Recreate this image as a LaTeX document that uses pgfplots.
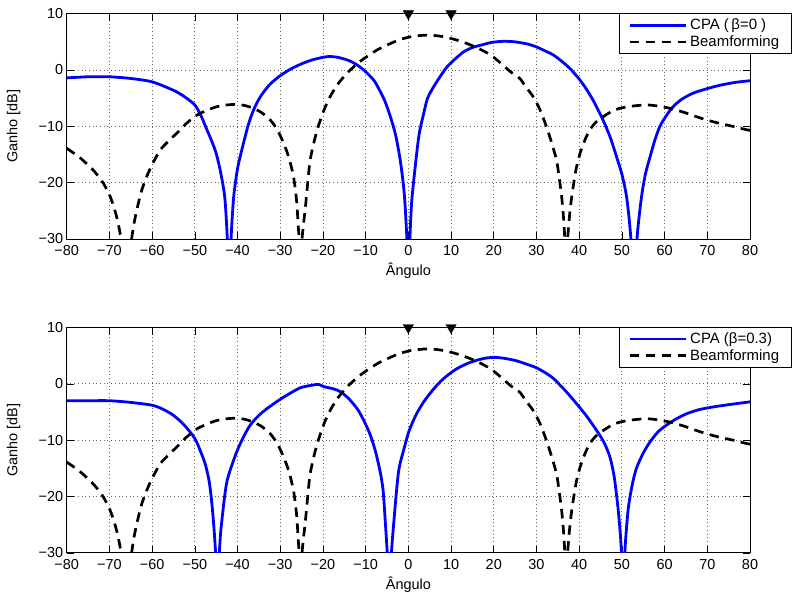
\documentclass[border=0pt]{standalone}
\usepackage{fontspec}
\setmainfont{Liberation Sans}
\usepackage{pgfplots}
\usepackage{pgfplotstable}
\pgfplotsset{compat=1.18}

\definecolor{mblue}{rgb}{0,0,1}

% Beamforming (same in both panels)
\pgfplotstableread{
x y
-80 -13.9
-77 -15.5
-73.75 -17.8
-71.5 -20
-69.8 -22.5
-68.5 -25.5
-67.5 -29
-66.8 -34
-66.2 -60
-65.6 -34
-64.8 -30
-64.3 -27.5
-63.6 -24.9
-62.5 -21.5
-61.25 -18.9
-60 -16.8
-58.1 -14.2
-56 -12.5
-54.2 -11.2
-52 -9.5
-49.5 -8
-47 -7.1
-44.8 -6.5
-42.5 -6.2
-40.2 -6.1
-38.3 -6.3
-36.25 -6.8
-34.3 -7.6
-32.3 -8.9
-30.7 -10.6
-29.2 -13
-28 -15.5
-26.9 -18.9
-26.2 -23
-25.8 -27.5
-25.5 -33
-25.3 -60
-25.1 -33
-24.9 -30
-24.5 -27
-24.1 -24.3
-23.5 -19.5
-23 -16
-22 -12.5
-21 -9.8
-19.7 -7
-18.3 -4.7
-16.5 -2.5
-14.4 -0.6
-12 1.1
-9.7 2.4
-7 3.7
-4.2 4.7
-2 5.4
0.5 5.9
2.5 6.1
4.4 6.2
6.5 6.1
8.3 5.9
11 5.4
13.75 4.7
16.5 3.8
19.2 2.7
21.5 1.3
23.9 -0.3
26.1 -1.5
27.5 -3
29.2 -4.7
30.8 -7
32.3 -10
33.5 -12.8
34.7 -16
35.3 -19
35.9 -22.5
36.4 -27
36.7 -33
36.95 -60
37.2 -33
37.5 -28
38 -24
38.6 -20.7
39.3 -17.5
40.2 -14.8
41.3 -12.5
42.5 -10.6
44 -9.2
45.6 -8.3
47.5 -7.4
49.5 -6.8
52.5 -6.4
55.8 -6.2
58.5 -6.4
61.25 -6.8
64.5 -7.5
67.5 -8.3
70 -8.9
73 -9.5
76 -10
79.2 -10.6
80 -10.7
}\bfdata

% CPA beta = 0
\pgfplotstableread{
x y
-80 -1.4
-75 -1.2
-70 -1.2
-65 -1.5
-60 -2.1
-55 -3.6
-52.5 -4.7
-50 -6.2
-48.5 -8.2
-47.5 -10
-46 -12.7
-45 -14.8
-44 -18
-43 -22.5
-42.45 -29
-42.2 -35
-41.95 -60
-41.7 -35
-41.45 -29
-40.9 -22.5
-40 -17.5
-39 -14.2
-37.5 -9.8
-36.25 -7.1
-34.7 -4.8
-32.5 -2.6
-30 -1.0
-27.5 0.2
-25 1.1
-22.5 1.8
-20 2.25
-18.5 2.4
-16.5 2.25
-14 1.7
-12 0.9
-10 -0.3
-8 -1.9
-6.6 -3.8
-5.5 -5.5
-4.2 -8.3
-3 -11.5
-1.9 -16
-1 -21.6
-0.5 -27.6
-0.25 -33.6
0 -60
0.2 -35
0.4 -29.2
0.8 -23.2
1.6 -17.2
2.5 -11.5
3.6 -7.7
4.5 -5
5.9 -3
7.5 -1.1
9.1 0.6
11 2
13 3.25
15 4
16.9 4.4
19.5 4.9
22.3 5.1
25 5
28 4.6
30 4.1
32 3.4
33.9 2.7
36 1.5
37.8 0.3
40 -1.6
41.7 -3.4
43.5 -5.7
45.6 -8.9
47.3 -12
48.75 -15.4
50 -18.5
51.1 -22.5
51.95 -28.5
52.4 -35
52.8 -60
53.2 -35
53.7 -28.5
54.6 -22.5
55.5 -18.5
56.6 -15.4
57.7 -12.5
58.9 -10
60.5 -8
62 -6.5
64 -5.2
66.7 -4.1
70 -3.3
73 -2.7
76.5 -2.2
80 -1.9
}\cpaA

% CPA beta = 0.3
\pgfplotstableread{
x y
-80 -3.0
-75 -3.0
-70 -3.0
-65 -3.3
-60 -3.8
-57.5 -4.5
-55 -5.6
-52.5 -7.3
-50 -9.7
-48.5 -12.3
-47.5 -14.4
-46.6 -17.5
-45.9 -22.1
-45.3 -28
-45 -34
-44.7 -60
-44.4 -34
-44.1 -28
-43.7 -24.5
-42.5 -17.4
-40.2 -12.1
-38.5 -9.3
-37 -7.3
-35 -5.6
-33.1 -4.4
-30.5 -3
-28.4 -2
-25.3 -0.7
-22.2 -0.2
-21 -0.1
-19.8 -0.5
-17.5 -0.9
-15.9 -1.4
-14 -2.6
-12 -4.4
-10.5 -6.4
-8.9 -9.1
-7.7 -12
-6.6 -15.6
-5.9 -19
-5.4 -24.5
-4.95 -30
-4.7 -36
-4.45 -60
-4.2 -36
-3.95 -30
-3.4 -24.5
-2.3 -15.6
-1 -11.5
0.1 -8.5
1.8 -5.5
3.6 -3.2
5.5 -1.3
7.5 0.4
9.5 1.7
11.4 2.7
13.8 3.6
16.1 4.2
18 4.55
20 4.7
22.3 4.55
24.7 4.2
26.1 3.9
28.6 3.25
30 2.85
32 2.0
33.9 1.0
36 -0.6
37.8 -2.1
39.8 -3.9
41.7 -5.7
43.3 -7.4
44.8 -9.1
46 -10.7
47.2 -13
48.2 -16.5
49.1 -22.1
49.75 -28
50.05 -34
50.3 -60
50.55 -34
50.85 -28
51.5 -22.1
52.4 -18
53.4 -15
55 -12.3
56.6 -10.3
58.5 -8.5
60.5 -7.3
62.8 -6.2
65.2 -5.3
68 -4.6
71.4 -4.1
75 -3.7
80 -3.2
}\cpaB

\pgfplotsset{
  mstyle/.style={
    scale only axis,
    width=683.3bp, height=225.3bp,
    xmin=-80, xmax=80, ymin=-30, ymax=10,
    xtick={-80,-70,-60,-50,-40,-30,-20,-10,0,10,20,30,40,50,60,70,80},
    xticklabels={−80,−70,−60,−50,−40,−30,−20,−10,0,10,20,30,40,50,60,70,80},
    ytick={-30,-20,-10,0,10},
    yticklabels={−30,−20,−10,0,10},
    tick pos=both,
    tick align=inside,
    major tick length=7bp,
    tick style={black, line width=0.6bp},
    axis line style={black, line width=0.8bp},
    grid=major,
    major grid style={black!60, line width=0.8bp, dash pattern=on 0.8bp off 2.9bp},
    ticklabel style={font=\fontsize{14.5}{16}\selectfont},
    xticklabel style={yshift=-3bp},
    label style={font=\fontsize{14.5}{16}\selectfont},
    xlabel={Ângulo},
    ylabel={Ganho [dB]},
    xlabel style={at={(axis description cs:0.5,-0.142)}, anchor=center},
    ylabel style={at={(axis description cs:-0.0775,0.5)}, anchor=center},
    legend cell align=left,
    legend style={at={(0.8083,1.002)}, anchor=north west, draw=black,
      line width=0.8bp, fill=white,
      inner xsep=9bp, inner ysep=3bp, row sep=0bp,
      font=\fontsize{15}{17}\selectfont,
      nodes={inner xsep=3bp, inner ysep=2.3bp}},
    legend image code/.code={\draw[##1] (0bp,0bp) -- (56bp,0bp);},
  },
  cpaline/.style={mblue, line width=2.8bp, smooth, tension=0.45},
  bfline/.style={black, line width=2.7bp, smooth, tension=0.45, dash pattern=on 9.5bp off 6.5bp},
}

\begin{document}
\begin{tikzpicture}
\path[use as bounding box] (0,0) rectangle (798bp,-592bp);

\begin{axis}[mstyle, at={(66.7bp,-13.7bp)}, anchor=north west]
\addplot[cpaline] table[x=x,y=y] {\cpaA};
\addlegendentry{CPA (\,β=0 )\hspace{2bp}}
\addplot[bfline] table[x=x,y=y] {\bfdata};
\addlegendentry{Beamforming\hspace{2bp}}
\addplot[forget plot, only marks, mark=triangle*, mark size=6bp,
  mark options={rotate=180, fill=black, draw=black, solid}] coordinates {(0,10) (10,10)};
\end{axis}

\begin{axis}[mstyle, at={(66.7bp,-327.5bp)}, anchor=north west]
\addplot[cpaline] table[x=x,y=y] {\cpaB};
\addlegendentry{CPA (β=0.3)}
\addplot[bfline] table[x=x,y=y] {\bfdata};
\addlegendentry{Beamforming\hspace{2bp}}
\addplot[forget plot, only marks, mark=triangle*, mark size=6bp,
  mark options={rotate=180, fill=black, draw=black, solid}] coordinates {(0,10) (10,10)};
\end{axis}
\end{tikzpicture}
\end{document}
